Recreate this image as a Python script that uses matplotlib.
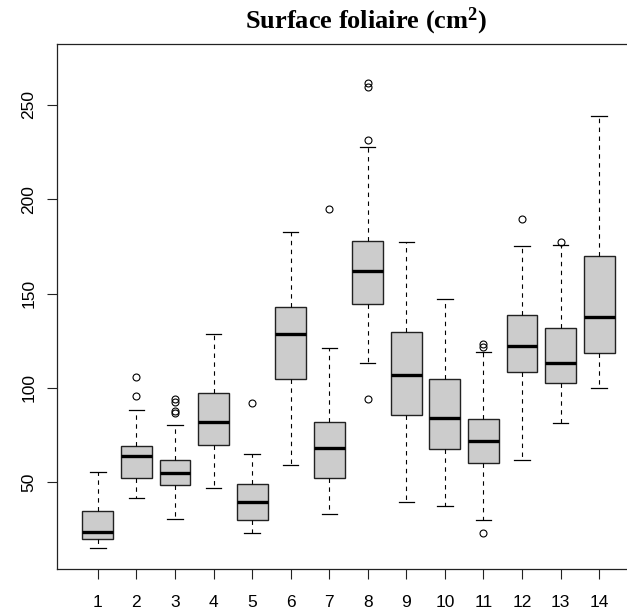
import numpy as np
import matplotlib.pyplot as plt

plt.rcParams['mathtext.fontset'] = 'custom'
plt.rcParams['mathtext.rm'] = 'Liberation Serif'
plt.rcParams['mathtext.bf'] = 'Liberation Serif:bold'

# valeurs (boxplot R, 14 groupes)
groupes = list(range(1, 15))
medianes = [23.5, 63.8, 54.8, 82.1, 39.4, 128.6, 68.3, 162.0, 106.8, 84.2, 71.8, 122.4, 113.2, 137.6]
q1 = [20.0, 52.3, 48.6, 69.5, 29.7, 104.7, 52.3, 144.3, 85.8, 67.7, 60.3, 108.2, 102.4, 118.3]
q3 = [34.6, 69.3, 61.9, 97.3, 49.2, 142.8, 81.9, 178.0, 129.6, 104.5, 83.7, 138.7, 131.8, 169.8]
moust_bas = [15.0, 41.5, 30.2, 46.7, 22.9, 58.9, 33.0, 113.2, 39.4, 37.1, 29.7, 61.9, 81.3, 100.1]
moust_haut = [55.2, 88.2, 80.3, 128.6, 64.9, 182.4, 121.1, 227.9, 177.4, 147.2, 118.9, 175.0, 175.7, 244.4]
atypiques = [[], [105.6, 95.9], [94.1, 92.3, 87.6, 86.8], [], [92.2], [], [194.8],
             [261.5, 259.7, 231.6, 93.9], [], [], [123.1, 121.4, 22.9], [189.3], [177.3], []]
yticks = [50, 100, 150, 200, 250]

stats = []
for i in range(len(groupes)):
    stats.append(dict(med=medianes[i], q1=q1[i], q3=q3[i],
                      whislo=moust_bas[i], whishi=moust_haut[i],
                      fliers=atypiques[i], label=str(groupes[i])))

fig = plt.figure(figsize=(6.27, 6.10), dpi=100)
# la zone du graphique déborde à droite (image rognée comme l'original)
ax = fig.add_axes([57/627, 1 - 568.7/610, (640 - 57)/627, (568.7 - 43.7)/610])

ax.bxp(stats, positions=groupes, widths=0.8, patch_artist=True,
       boxprops=dict(facecolor='#cccccc', edgecolor='#222222', linewidth=1.0),
       medianprops=dict(color='black', linewidth=2.4, solid_capstyle='butt'),
       whiskerprops=dict(color='black', linewidth=0.8, linestyle=(0, (4, 4))),
       capprops=dict(color='black', linewidth=0.9),
       flierprops=dict(marker='o', markerfacecolor='none', markeredgecolor='black',
                       markersize=5, markeredgewidth=0.8))

ax.set_xlim(-0.06, 15.06)
ax.set_ylim(4.1, 282.5)
ax.set_yticks(yticks)
ax.set_yticklabels([str(v) for v in yticks], rotation=90, va='center')
ax.set_xticks(groupes)
ax.set_xticklabels([str(g) for g in groupes])

for s in ax.spines.values():
    s.set_linewidth(0.9)
    s.set_color('#222222')

ax.tick_params(axis='both', direction='out', length=7, width=0.8, color='#222222',
               labelsize=12.5, labelfontfamily='Liberation Sans')
ax.tick_params(axis='y', pad=8)
ax.tick_params(axis='x', pad=12)

fig.text(366.5/627, 1 - 21/610, r'Surface foliaire (cm$\mathbf{^{2}}$)', ha='center', va='center',
         fontsize=19, fontweight='bold', family='Liberation Serif')

fig.savefig('out.png', dpi=100)
